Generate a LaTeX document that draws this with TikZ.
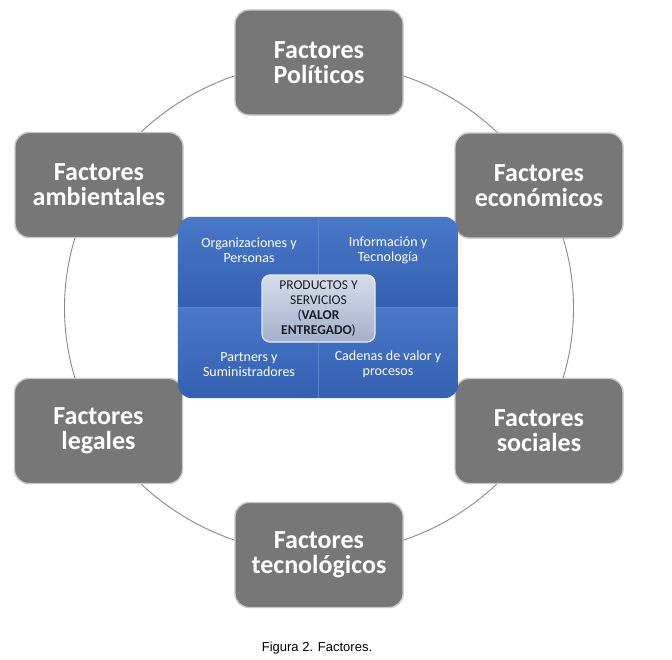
\documentclass[tikz,border=0pt]{standalone}
\usepackage{fontspec}
\setmainfont{Carlito}[Ligatures=NoCommon]
\newfontfamily\capfont{Liberation Sans}
\definecolor{factgray}{HTML}{777777}
\definecolor{factedge}{HTML}{C6C6C6}
\definecolor{ringgray}{HTML}{8A8A8A}
\definecolor{qtop}{HTML}{4A78C8}
\definecolor{qbot}{HTML}{3360B0}
\definecolor{qline}{HTML}{5A84CC}
\definecolor{ptop}{HTML}{D6DDEB}
\definecolor{pbot}{HTML}{A2B0CD}
\definecolor{pedge}{HTML}{E4E9F2}
\definecolor{ptext}{HTML}{1C1C24}
\begin{document}
\begin{tikzpicture}[x=1pt,y=-1pt,
  factor/.style={rounded corners=14pt, fill=factgray, draw=factedge, line width=1.4pt,
    minimum width=168pt, minimum height=105pt, inner sep=0pt, text=white, align=center,
    font=\fontsize{26}{25}\selectfont\bfseries},
  ring/.style={draw=ringgray, line width=0.9pt},
  corebox/.style={rounded corners=14pt, minimum width=280pt, minimum height=181pt, inner sep=0pt},
  quad/.style={text=white, align=center, font=\fontsize{14}{15}\selectfont, inner sep=0pt},
  prodbox/.style={rounded corners=8pt, top color=ptop, bottom color=pbot, draw=pedge, line width=1.2pt,
    minimum width=113pt, minimum height=67pt, inner sep=0pt, text=ptext, align=center,
    font=\fontsize{13.5}{15}\selectfont},
  divline/.style={draw=qline, line width=0.6pt}
]
\useasboundingbox (0,0) rectangle (672,659);
\fill[white] (0,0) rectangle (672,659);

\draw[ring] (319,308) ellipse [x radius=254.5, y radius=246];

\node[factor] (pol) at (319,62.5) {Factores\\Políticos};
\node[factor] (eco) at (539,185.5) {Factores\\económicos};
\node[factor] (amb) at (99,185) {Factores\\ambientales};
\node[factor] (leg) at (98.5,431) {Factores\\legales};
\node[factor] (soc) at (539,431) {Factores\\sociales};
\node[factor] (tec) at (319,555) {Factores\\tecnológicos};

\node[corebox] (core) at (318,307.5) {};
\begin{scope}
  \clip[rounded corners=14pt] (core.north west) rectangle (core.south east);
  \shade[top color=qtop, bottom color=qbot] (core.north west) rectangle (core.east);
  \shade[top color=qtop, bottom color=qbot] (core.west) rectangle (core.south east);
\end{scope}
\draw[divline] (core.north) -- (core.south);
\draw[divline] (core.west) -- (core.east);

\node[quad] (org) at (249,250) {Organizaciones y\\Personas};
\node[quad] (inf) at (388,250) {Información y\\Tecnología};
\node[quad] (par) at (249,364.5) {Partners y\\Suministradores};
\node[quad] (cad) at (388,364.5) {Cadenas de valor y\\procesos};

\node[prodbox] (prod) at (318.5,308.5) {PRODUCTOS Y\\SERVICIOS\\(\textbf{VALOR}\\\textbf{ENTREGADO})};

\node[font=\capfont\fontsize{13}{15}\selectfont, inner sep=0pt] (cap) at (317,648) {Figura 2. Factores.};
\end{tikzpicture}
\end{document}
